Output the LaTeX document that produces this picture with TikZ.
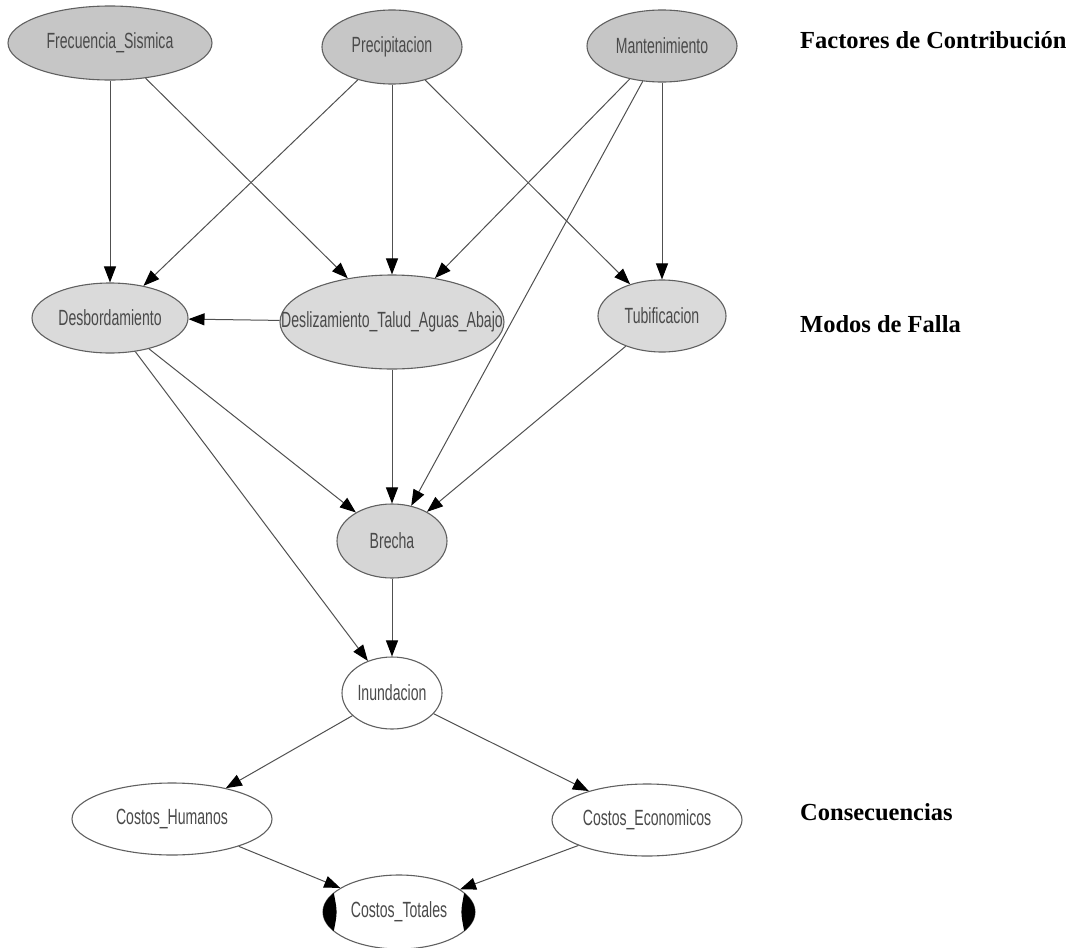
\documentclass[tikz,border=0pt]{standalone}
\usepackage{fontspec}
\usetikzlibrary{shapes.geometric,arrows.meta}
\newfontfamily\nodefont[FakeStretch=0.64]{Liberation Sans}
\newfontfamily\headfont{Liberation Serif}
\definecolor{facgray}{HTML}{C6C6C6}
\definecolor{modegray}{HTML}{DADADA}
\definecolor{brechagray}{HTML}{D6D6D6}
\definecolor{nodeline}{HTML}{606060}
\definecolor{edgegray}{HTML}{505050}
\definecolor{nodetext}{HTML}{4A4A4A}
\tikzset{
  bn/.style={ellipse, draw=nodeline, line width=1.1pt, inner sep=0pt},
  fac/.style={bn, fill=facgray},
  mode/.style={bn, fill=modegray},
  cons/.style={bn, fill=white},
  nlabel/.style={font=\nodefont\fontsize{22}{26}\selectfont, text=nodetext, inner sep=0pt},
  link/.style={draw=edgegray, line width=1pt, -{Triangle[length=16pt,width=12pt,color=black]}},
  level/.style={font=\headfont\bfseries\fontsize{24.5}{28}\selectfont, anchor=base west, inner sep=0pt},
}
\begin{document}
\begin{tikzpicture}[x=1pt,y=-1pt]
\useasboundingbox (0,0) rectangle (1069,948);

% contributing factors
\node[fac, minimum width=204pt, minimum height=74pt, label={[nlabel]center:Frecuencia\_Sismica}] (fs) at (110,43) {};
\node[fac, minimum width=140pt, minimum height=74pt, label={[nlabel]center:Precipitacion}] (pr) at (392,47) {};
\node[fac, minimum width=150pt, minimum height=72pt, label={[nlabel]center:Mantenimiento}] (ma) at (662,46) {};

% failure modes
\node[mode, minimum width=156pt, minimum height=70pt, label={[nlabel]center:Desbordamiento}] (de) at (110,318) {};
\node[mode, minimum width=224pt, minimum height=94pt, label={[nlabel]center:Deslizamiento\_Talud\_Aguas\_Abajo}] (dl) at (392,322) {};
\node[mode, minimum width=128pt, minimum height=72pt, label={[nlabel]center:Tubificacion}] (tu) at (662,316) {};
\node[bn, fill=brechagray, minimum width=110pt, minimum height=74pt, label={[nlabel]center:Brecha}] (br) at (392,541) {};

% consequences
\node[cons, minimum width=100pt, minimum height=72pt, label={[nlabel]center:Inundacion}] (in) at (392,693) {};
\node[cons, minimum width=200pt, minimum height=72pt, label={[nlabel]center:Costos\_Humanos}] (ch) at (172,819) {};
\node[cons, minimum width=190pt, minimum height=72pt, label={[nlabel]center:Costos\_Economicos}] (ce) at (647,820) {};
\node[cons, minimum width=152pt, minimum height=74pt] (ct) at (399,912) {};

% black side marks of the utility node
\fill[black] plot[domain=149.1:210.9, samples=20] ({399+76*cos(\x)},{912+37*sin(\x)})
  .. controls (337.5,912) .. (333.8,931) -- cycle;
\fill[black] plot[domain=-30.9:30.9, samples=20] ({399+76*cos(\x)},{912+37*sin(\x)})
  .. controls (460.5,912) .. (464.2,893) -- cycle;
\node[nlabel] (ct-t) at (ct.center) {Costos\_Totales};

% dependencies
\draw[link] (fs) -- (de);
\draw[link] (fs) -- (dl);
\draw[link] (pr) -- (de);
\draw[link] (pr) -- (dl);
\draw[link] (pr) -- (tu);
\draw[link] (ma) -- (dl);
\draw[link] (ma) -- (br);
\draw[link] (ma) -- (tu);
\draw[link] (dl) -- (de);
\draw[link] (de) -- (br);
\draw[link] (de) -- (in);
\draw[link] (dl) -- (br);
\draw[link] (tu) -- (br);
\draw[link] (br) -- (in);
\draw[link] (in) -- (ch);
\draw[link] (in) -- (ce);
\draw[link] (ch) -- (ct);
\draw[link] (ce) -- (ct);

% level headings
\node[level] (h1) at (800,48) {Factores de Contribución};
\node[level] (h2) at (800,332) {Modos de Falla};
\node[level] (h3) at (800,820) {Consecuencias};
\end{tikzpicture}
\end{document}
